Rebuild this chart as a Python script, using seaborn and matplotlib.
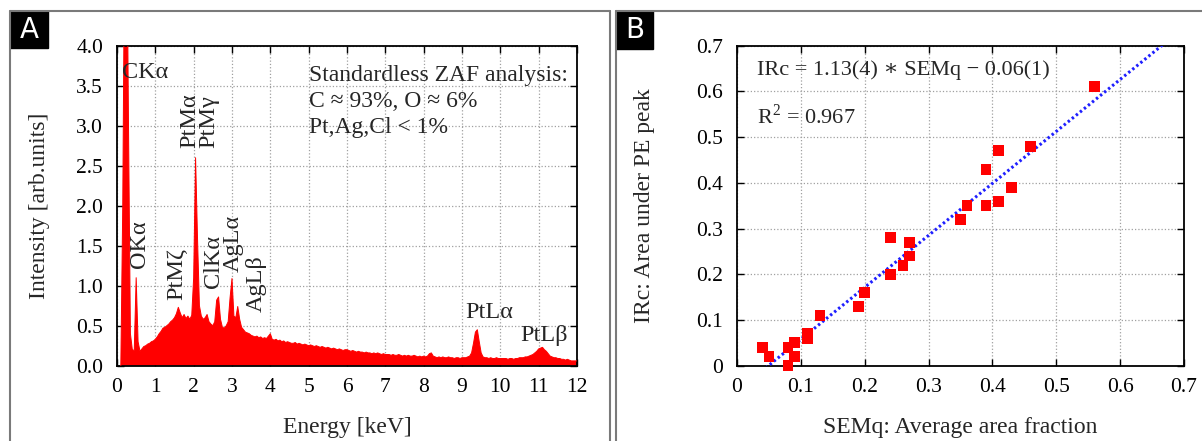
import numpy as np
import matplotlib
matplotlib.use("Agg")
import matplotlib.pyplot as plt
import seaborn as sns
from matplotlib.patches import Rectangle
from matplotlib.lines import Line2D

# ---------------- data: panel A (EDX spectrum) ----------------
energy_start = 0.10   # keV
energy_step = 0.05    # keV
intensity = [
    0.00, 2.00, 5.50, 6.00, 3.00, 0.40, 0.20, 0.19, 1.10, 0.30,   # 0.10-0.55
    0.18, 0.21, 0.24, 0.25, 0.27, 0.28, 0.30, 0.31, 0.33, 0.36,   # 0.60-1.05
    0.40, 0.43, 0.47, 0.48, 0.50, 0.52, 0.55, 0.57, 0.60, 0.65,   # 1.10-1.55
    0.73, 0.66, 0.60, 0.64, 0.59, 0.62, 0.58, 0.63, 1.10, 2.60,   # 1.60-2.05
    1.60, 0.75, 0.62, 0.58, 0.60, 0.64, 0.55, 0.52, 0.50, 0.55,   # 2.10-2.55
    0.82, 0.86, 0.58, 0.48, 0.47, 0.50, 0.55, 0.85, 1.09, 0.62,   # 2.60-3.05
    0.60, 0.74, 0.58, 0.48, 0.45, 0.42, 0.41, 0.40, 0.38, 0.37,   # 3.10-3.55
    0.36, 0.37, 0.35, 0.36, 0.34, 0.35, 0.34, 0.37, 0.40, 0.33,   # 3.60-4.05
    0.32, 0.33, 0.31, 0.32, 0.30, 0.31, 0.29, 0.30, 0.29, 0.28,   # 4.10-4.55
    0.28, 0.29, 0.27, 0.28, 0.27, 0.26, 0.27, 0.26, 0.25, 0.26,   # 4.60-5.05
    0.25, 0.24, 0.25, 0.24, 0.23, 0.24, 0.23, 0.22, 0.23, 0.22,   # 5.10-5.55
    0.21, 0.22, 0.21, 0.20, 0.21, 0.20, 0.19, 0.20, 0.20, 0.19,   # 5.60-6.05
    0.18, 0.19, 0.18, 0.17, 0.18, 0.17, 0.17, 0.16, 0.17, 0.16,   # 6.10-6.55
    0.16, 0.15, 0.16, 0.15, 0.16, 0.15, 0.14, 0.15, 0.14, 0.14,   # 6.60-7.05
    0.14, 0.13, 0.14, 0.13, 0.13, 0.14, 0.13, 0.12, 0.13, 0.12,   # 7.10-7.55
    0.13, 0.12, 0.12, 0.13, 0.12, 0.11, 0.12, 0.11, 0.12, 0.11,   # 7.60-8.05
    0.12, 0.15, 0.16, 0.12, 0.11, 0.10, 0.11, 0.10, 0.11, 0.10,   # 8.10-8.55
    0.10, 0.11, 0.10, 0.10, 0.09, 0.10, 0.10, 0.09, 0.10, 0.10,   # 8.60-9.05
    0.10, 0.11, 0.12, 0.16, 0.28, 0.42, 0.45, 0.30, 0.16, 0.11,   # 9.10-9.55
    0.10, 0.10, 0.09, 0.10, 0.09, 0.09, 0.10, 0.09, 0.09, 0.09,   # 9.60-10.05
    0.09, 0.09, 0.08, 0.09, 0.09, 0.08, 0.09, 0.09, 0.10, 0.10,   # 10.10-10.55
    0.10, 0.11, 0.11, 0.12, 0.13, 0.14, 0.16, 0.18, 0.21, 0.22,   # 10.60-11.05
    0.23, 0.20, 0.18, 0.15, 0.12, 0.11, 0.10, 0.10, 0.09, 0.09,   # 11.10-11.55
    0.08, 0.08, 0.07, 0.08, 0.07, 0.06, 0.06, 0.06, 0.06,         # 11.60-12.00
]
energy = np.round(energy_start + energy_step * np.arange(len(intensity)), 3)

a_xticks = list(range(0, 13))
a_yticks = [0.0, 0.5, 1.0, 1.5, 2.0, 2.5, 3.0, 3.5, 4.0]

# ---------------- data: panel B (correlation) ----------------
semq = [0.04, 0.05, 0.08, 0.08, 0.09, 0.09, 0.11, 0.11, 0.13, 0.19, 0.20,
        0.24, 0.24, 0.26, 0.27, 0.27, 0.35, 0.36, 0.39, 0.39, 0.41, 0.41,
        0.43, 0.46, 0.56]
irc = [0.04, 0.02, 0.04, 0.00, 0.05, 0.02, 0.07, 0.06, 0.11, 0.13, 0.16,
       0.28, 0.20, 0.22, 0.27, 0.24, 0.32, 0.35, 0.43, 0.35, 0.47, 0.36,
       0.39, 0.48, 0.61]
fit_slope = 1.137
fit_intercept = -0.056
fit_x = [0.045, 0.70]
b_ticks = [0, 0.1, 0.2, 0.3, 0.4, 0.5, 0.6, 0.7]
b_ticklabels = ["0", "0.1", "0.2", "0.3", "0.4", "0.5", "0.6", "0.7"]

# ---------------- style ----------------
sns.set_style("ticks")
plt.rcParams["font.family"] = ["Liberation Serif", "DejaVu Serif"]
plt.rcParams["mathtext.fontset"] = "custom"
plt.rcParams["mathtext.rm"] = "Liberation Serif"

W, H = 1202, 441
fig = plt.figure(figsize=(W / 100, H / 100), dpi=100)
fig.patch.set_facecolor("white")

def fx(px):
    return px / W

def fy(py):
    return 1 - py / H

axA = fig.add_axes([fx(117), fy(365.7), (577 - 117) / W, 320 / H])
axB = fig.add_axes([fx(737), fy(365.7), (1184 - 737) / W, 320 / H])

for ax in (axA, axB):
    ax.set_facecolor("white")
    ax.tick_params(direction="in", top=True, right=True, length=5, width=1,
                   labelsize=15.5, color="black", labelcolor="black")
    ax.tick_params(axis="x", pad=9)
    ax.tick_params(axis="y", pad=10)
    ax.grid(True, ls=":", color="#a0a0a0", lw=0.9)
    ax.set_axisbelow(True)
    for s in ax.spines.values():
        s.set_color("black")
        s.set_linewidth(1.3)

# ---- Panel A ----
axA.fill_between(energy, intensity, 0, color="red", lw=0, zorder=2)
sns.lineplot(x=energy, y=intensity, color="red", lw=0.7, ax=axA, zorder=3)
axA.set_xlim(0, 12)
axA.set_ylim(0, 4)
axA.set_xticks(a_xticks)
axA.set_yticks(a_yticks)
axA.set_yticklabels([f"{v:.1f}" for v in a_yticks])
axA.set_xlabel("Energy [keV]", fontsize=17, labelpad=14)
axA.set_ylabel("Intensity [arb.units]", fontsize=17, labelpad=19)

fs = 17.5
axA.text(0.14, 3.66, "CKα", fontsize=fs, ha="left", va="center")
axA.text(5.0, 3.63, "Standardless ZAF analysis:", fontsize=17, ha="left", va="center")
axA.text(5.0, 3.30, "C ≈ 93%, O ≈ 6%", fontsize=17, ha="left", va="center")
axA.text(5.0, 2.98, "Pt,Ag,Cl < 1%", fontsize=17, ha="left", va="center")
rot_labels = [("OKα", 0.59, 1.22), ("PtMζ", 1.56, 0.82), ("PtMα", 1.90, 2.72),
              ("PtMγ", 2.40, 2.72), ("ClKα", 2.53, 0.97), ("AgLα", 3.04, 1.17),
              ("AgLβ", 3.64, 0.67)]
for t, x, y in rot_labels:
    axA.text(x, y, t, fontsize=fs, rotation=90, ha="center", va="bottom")
axA.text(9.08, 0.66, "PtLα", fontsize=fs, ha="left", va="center")
axA.text(10.53, 0.38, "PtLβ", fontsize=fs, ha="left", va="center")

# ---- Panel B ----
fit_y = [fit_slope * x + fit_intercept for x in fit_x]
sns.lineplot(x=fit_x, y=fit_y, color="#1f1fff", lw=2.2, ax=axB,
             linestyle=(0, (0.8, 0.9)), zorder=3)
sns.scatterplot(x=semq, y=irc, marker="s", s=60, color="red",
                edgecolor="none", ax=axB, zorder=4, clip_on=False)
axB.set_xlim(0, 0.7)
axB.set_ylim(0, 0.7)
axB.set_xticks(b_ticks)
axB.set_xticklabels(b_ticklabels)
axB.set_yticks(b_ticks)
axB.set_yticklabels(b_ticklabels)
axB.set_xlabel("SEMq: Average area fraction", fontsize=17, labelpad=14)
axB.set_ylabel("IRc: Area under PE peak", fontsize=17, labelpad=30)
axB.text(0.031, 0.647, "IRc = 1.13(4) ∗ SEMq − 0.06(1)", fontsize=16,
         ha="left", va="center", family=["Liberation Serif", "DejaVu Serif"])
axB.text(0.031, 0.546, r"R$^2$ = 0.967", fontsize=16, ha="left", va="center")

# ---- panel frames and letter boxes ----
frame_c = "#7a7a7a"
fig.add_artist(Line2D([fx(10), fx(10)], [fy(11), 0], color=frame_c, lw=1.5,
                      transform=fig.transFigure))
fig.add_artist(Line2D([fx(10), fx(609.5)], [fy(11), fy(11)], color=frame_c, lw=1.5,
                      transform=fig.transFigure))
fig.add_artist(Line2D([fx(609.5), fx(609.5)], [fy(11), 0], color=frame_c, lw=1.5,
                      transform=fig.transFigure))
fig.add_artist(Line2D([fx(616), fx(616)], [fy(11), 0], color=frame_c, lw=1.5,
                      transform=fig.transFigure))
fig.add_artist(Line2D([fx(616), 1], [fy(11), fy(11)], color=frame_c, lw=1.5,
                      transform=fig.transFigure))

fig.add_artist(Rectangle((fx(10), fy(48)), 38 / W, 37 / H, color="black",
                         transform=fig.transFigure))
fig.text(fx(29), fy(29.5), "A", color="white", fontsize=20, family="DejaVu Sans",
         ha="center", va="center")
fig.add_artist(Rectangle((fx(616), fy(49)), 37 / W, 38 / H, color="black",
                         transform=fig.transFigure))
fig.text(fx(634.5), fy(30), "B", color="white", fontsize=20, family="DejaVu Sans",
         ha="center", va="center")

fig.savefig("out.png", dpi=100, facecolor="white")
